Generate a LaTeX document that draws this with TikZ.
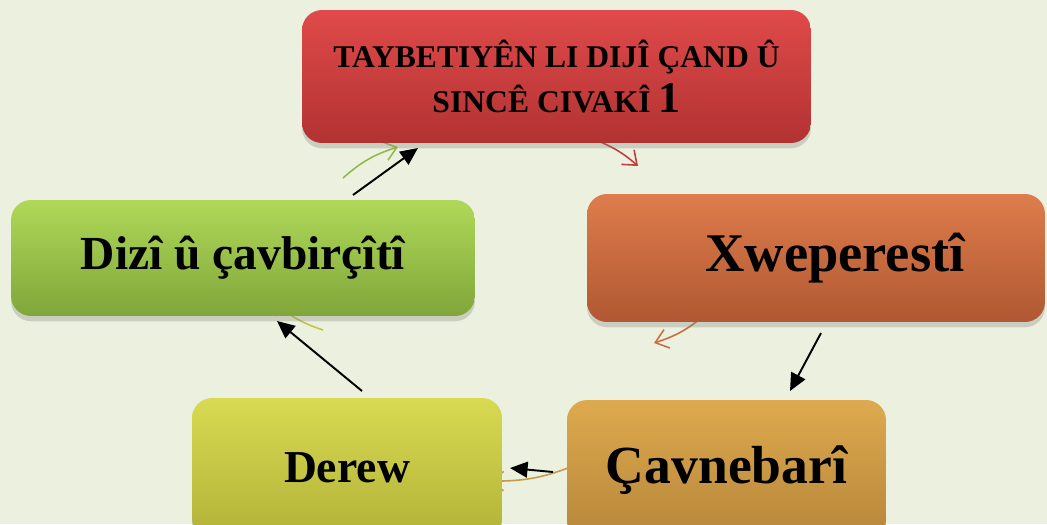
\documentclass[tikz,border=0pt]{standalone}
\usepackage{fontspec}
\setmainfont{Liberation Serif}
\usetikzlibrary{arrows.meta,shadows}
\pgfdeclarelayer{bg}
\pgfdeclarelayer{ring}
\pgfsetlayers{bg,ring,main}
\definecolor{paper}{RGB}{235,241,222}
\definecolor{redA}{RGB}{224,74,74}
\definecolor{redB}{RGB}{178,50,50}
\definecolor{orangeA}{RGB}{222,124,76}
\definecolor{orangeB}{RGB}{176,88,50}
\definecolor{greenA}{RGB}{176,216,88}
\definecolor{greenB}{RGB}{128,166,58}
\definecolor{yellowA}{RGB}{216,218,82}
\definecolor{yellowB}{RGB}{178,178,56}
\definecolor{goldA}{RGB}{222,170,78}
\definecolor{goldB}{RGB}{182,134,58}
\begin{document}
\begin{tikzpicture}[x=0.02cm, y=-0.02cm,
    box/.style={rounded corners=0.4cm, inner sep=0pt, align=center,
        font=\fontsize{27}{30}\selectfont\bfseries,
        drop shadow={opacity=0.3, shadow xshift=0pt, shadow yshift=-3pt}},
    link/.style={-{Triangle[length=10pt, width=9pt]}, line width=1.1pt},
    ring/.style={-{Straight Barb[length=7pt, width=11pt]}, line width=0.9pt}
]
    \begin{pgfonlayer}{bg}
        \fill[paper] (0,0) rectangle (1047,524);
    \end{pgfonlayer}
    \useasboundingbox (0,0) rectangle (1047,524);

    % Five stages
    \node[box, top color=redA, bottom color=redB, minimum width=10.18cm, minimum height=2.66cm,
        font=\fontsize{18}{25.6}\selectfont\bfseries] (top) at (556.5,76.5)
        {TAYBETIYÊN LI DIJÎ ÇAND Û\\SINCÊ CIVAKÎ {\fontsize{25}{25}\selectfont 1}};
    \node[box, top color=orangeA, bottom color=orangeB, minimum width=9.16cm, minimum height=2.56cm,
        font=\fontsize{31}{33}\selectfont\bfseries] (xwe) at (816,258) {\hspace*{0.76cm}Xweperestî};
    \node[box, top color=goldA, bottom color=goldB, minimum width=6.38cm, minimum height=2.8cm,
        font=\fontsize{30.5}{33}\selectfont\bfseries] (cav) at (726.5,470) {Çavnebarî};
    \node[box, top color=yellowA, bottom color=yellowB, minimum width=6.2cm, minimum height=2.8cm,
        font=\fontsize{26}{30}\selectfont\bfseries] (derew) at (347,468) {Derew};
    \node[box, top color=greenA, bottom color=greenB, minimum width=9.28cm, minimum height=2.32cm] (dizi) at (243,258) {Dizî û çavbirçîtî};

    % Ends of the arrows
    \coordinate (r1s) at (593,139);  \coordinate (r1e) at (638,166);
    \coordinate (r2s) at (708,312);  \coordinate (r2e) at (654,343);
    \coordinate (r3s) at (580,463);  \coordinate (r3e) at (490,481);
    \coordinate (r4s) at (323,330);  \coordinate (r4e) at (272,300);
    \coordinate (r5s) at (343,178);  \coordinate (r5e) at (398,147);
    \coordinate (k1s) at (353,195);  \coordinate (k1e) at (418,148);
    \coordinate (k2s) at (821,333);  \coordinate (k2e) at (790,391);
    \coordinate (k3s) at (553,472);  \coordinate (k3e) at (510,468);
    \coordinate (k4s) at (362,391);  \coordinate (k4e) at (277,321);

    % Cycle arcs behind the boxes
    \begin{pgfonlayer}{ring}
        \draw[ring, color=redA!85!black] (r1s) to[bend left=10] (r1e);
        \draw[ring, color=orangeA!90!black] (r2s) to[bend left=12] (r2e);
        \draw[ring, color=goldA!90!black] (r3s) to[bend left=12] (r3e);
        \draw[ring, color=yellowA!90!black] (r4s) to[bend left=12] (r4e);
        \draw[ring, color=greenA!85!black] (r5s) to[bend left=12] (r5e);
    \end{pgfonlayer}

    % Black arrows
    \draw[link] (k1s) -- (k1e);
    \draw[link] (k2s) -- (k2e);
    \draw[link] (k3s) -- (k3e);
    \draw[link] (k4s) -- (k4e);
\end{tikzpicture}
\end{document}
